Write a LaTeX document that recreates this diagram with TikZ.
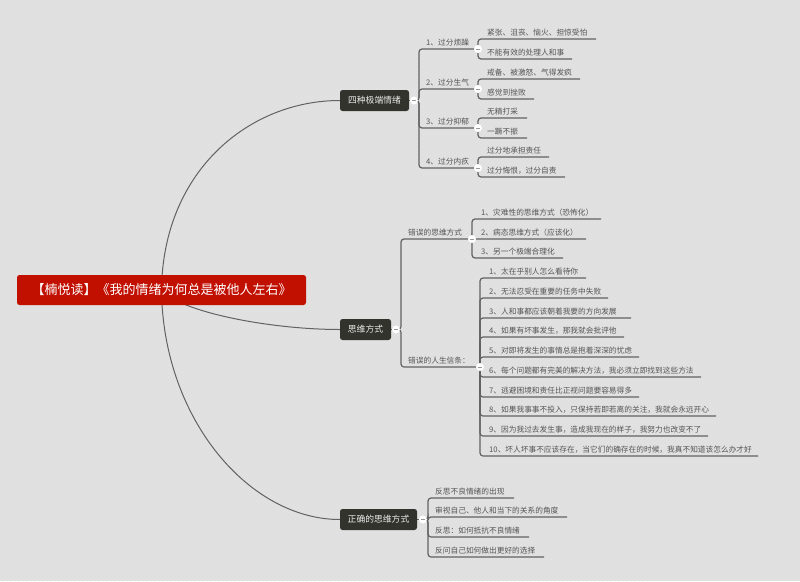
\documentclass[tikz,border=0pt]{standalone}
\usepackage{fontspec}
\setmainfont{Noto Sans CJK SC}
\usetikzlibrary{calc}
\definecolor{paper}{HTML}{E2E2E2}
\definecolor{paperline}{HTML}{DEDEDE}
\definecolor{wire}{HTML}{626262}
\definecolor{ink}{HTML}{555555}
\definecolor{rootred}{HTML}{C10F00}
\definecolor{topicdark}{HTML}{33332D}
\pgfdeclarelayer{paperlayer}
\pgfdeclarelayer{wirelayer}
\pgfsetlayers{paperlayer,wirelayer,main}
\tikzset{
  rootbox/.style={rectangle,rounded corners=2.5pt,fill=rootred,text=white,inner sep=0pt,minimum width=289pt,minimum height=30pt,font=\fontsize{13}{13}\selectfont},
  topicbox/.style={rectangle,rounded corners=2.5pt,fill=topicdark,text=white!92!black,inner sep=0pt,minimum height=21pt,font=\fontsize{8.8}{9}\selectfont},
  leaftext/.style={anchor=base west,inner sep=0pt,text=ink,font=\fontsize{7.7}{8}\selectfont},
  wireline/.style={draw=wire,line width=1.2pt,rounded corners=3pt},
  curveline/.style={draw=wire,line width=1pt},
  hub/.style={circle,fill=white,inner sep=0pt,minimum size=8pt,path picture={\draw[wire!65!white,line width=0.6pt] (-1.6pt,0)--(1.6pt,0);}},
}
% \leaf{hub}{name}{spine x}{y of underline}{end x}{text x}{text}
\newcommand{\leaf}[7]{%
  \node[leaftext] (#2) at (#6,#4-4) {#7};
  \coordinate (#2-s) at (#3,#4);
  \coordinate (#2-e) at (#5,#4);
  \begin{pgfonlayer}{wirelayer}
    \draw[wireline] (#1.center) -- (#1.center -| #2-s) -- (#2-s) -- (#2-e);
  \end{pgfonlayer}
}
\begin{document}
\begin{tikzpicture}[x=1pt,y=-1pt]
\useasboundingbox (0,0) rectangle (800,581);
\begin{pgfonlayer}{paperlayer}
  \fill[paper] (0,0) rectangle (800,581);
  \begin{scope}
    \clip (0,0) rectangle (800,581);
    \foreach \k in {0,4,...,1384} {
      \draw[paperline,line width=0.7pt] (\k,0) -- (\k-581,581);
    }
  \end{scope}
\end{pgfonlayer}

\node[rootbox] (root) at (161.5,290) {【楠悦读】《我的情绪为何总是被他人左右》};
\node[topicbox,minimum width=69pt] (ta) at (374.5,100.5) {四种极端情绪};
\node[topicbox,minimum width=51pt] (tb) at (365.5,329.5) {思维方式};
\node[topicbox,minimum width=77pt] (tc) at (378.5,519.5) {正确的思维方式};

\begin{pgfonlayer}{wirelayer}
  \draw[curveline] (root.center) .. controls (163,170) and (250,100.5) .. (ta.west);
  \draw[curveline] (root.center) .. controls (180,312) and (270,329.5) .. (tb.west);
  \draw[curveline] (root.center) .. controls (163,420) and (250,519.5) .. (tc.west);
  \draw[wireline] (ta.east) -- (414,100.5);
  \draw[wireline] (tb.east) -- (396,329.5);
  \draw[wireline] (tc.east) -- (423,519.5);
\end{pgfonlayer}

\node[hub] (ha) at (414,100.5) {};
\node[hub] (hb) at (396,329.5) {};
\node[hub] (hc) at (423,519.5) {};
\node[hub] (h1) at (478,49) {};
\node[hub] (h2) at (478,89) {};
\node[hub] (h3) at (478,128) {};
\node[hub] (h4) at (478,168) {};
\node[hub] (hw) at (472,239) {};
\node[hub] (hl) at (480,367) {};

\leaf{ha}{a1}{419}{49}{478}{426}{1、过分烦躁}
\leaf{ha}{a2}{419}{89}{478}{426}{2、过分生气}
\leaf{ha}{a3}{419}{128}{478}{426}{3、过分抑郁}
\leaf{ha}{a4}{419}{168}{478}{426}{4、过分内疚}

\leaf{h1}{a11}{478}{39}{596}{487}{紧张、沮丧、恼火、担惊受怕}
\leaf{h1}{a12}{478}{59}{572}{487}{不能有效的处理人和事}
\leaf{h2}{a21}{478}{79}{580}{487}{戒备、被激怒、气得发疯}
\leaf{h2}{a22}{478}{99}{534}{487}{感觉到挫败}
\leaf{h3}{a31}{478}{118}{527}{487}{无精打采}
\leaf{h3}{a32}{478}{138}{527}{487}{一蹶不振}
\leaf{h4}{a41}{478}{157}{549}{487}{过分地承担责任}
\leaf{h4}{a42}{478}{177}{565}{487}{过分悔恨，过分自责}

\leaf{hb}{b1}{401}{239}{472}{408}{错误的思维方式}
\leaf{hb}{b2}{401}{367}{480}{408}{错误的人生信条：}

\leaf{hw}{w1}{472}{219}{601}{481}{1、灾难性的思维方式（恐怖化）}
\leaf{hw}{w2}{472}{239}{586}{481}{2、病态思维方式（应该化）}
\leaf{hw}{w3}{472}{258}{563}{481}{3、另一个极端合理化}

\leaf{hl}{l1}{480}{278}{586}{489}{1、太在乎别人怎么看待你}
\leaf{hl}{l2}{480}{298}{608}{489}{2、无法忍受在重要的任务中失败}
\leaf{hl}{l3}{480}{318}{631}{489}{3、人和事都应该朝着我要的方向发展}
\leaf{hl}{l4}{480}{337}{624}{489}{4、如果有坏事发生，那我就会批评他}
\leaf{hl}{l5}{480}{357}{639}{489}{5、对即将发生的事情总是抱着深深的忧虑}
\leaf{hl}{l6}{480}{377}{701}{489}{6、每个问题都有完美的解决方法，我必须立即找到这些方法}
\leaf{hl}{l7}{480}{397}{639}{489}{7、逃避困境和责任比正视问题要容易得多}
\leaf{hl}{l8}{480}{416}{716}{489}{8、如果我事事不投入，只保持若即若离的关注，我就会永远开心}
\leaf{hl}{l9}{480}{436}{708}{489}{9、因为我过去发生事，造成我现在的样子，我努力也改变不了}
\leaf{hl}{l10}{480}{456}{758}{489}{10、坏人坏事不应该存在，当它们的确存在的时候，我真不知道该怎么办才好}

\leaf{hc}{c1}{428}{498}{514}{435}{反思不良情绪的出现}
\leaf{hc}{c2}{428}{517}{567}{435}{审视自己、他人和当下的关系的角度}
\leaf{hc}{c3}{428}{537}{529}{435}{反思：如何抵抗不良情绪}
\leaf{hc}{c4}{428}{557}{544}{435}{反问自己如何做出更好的选择}
\end{tikzpicture}
\end{document}
